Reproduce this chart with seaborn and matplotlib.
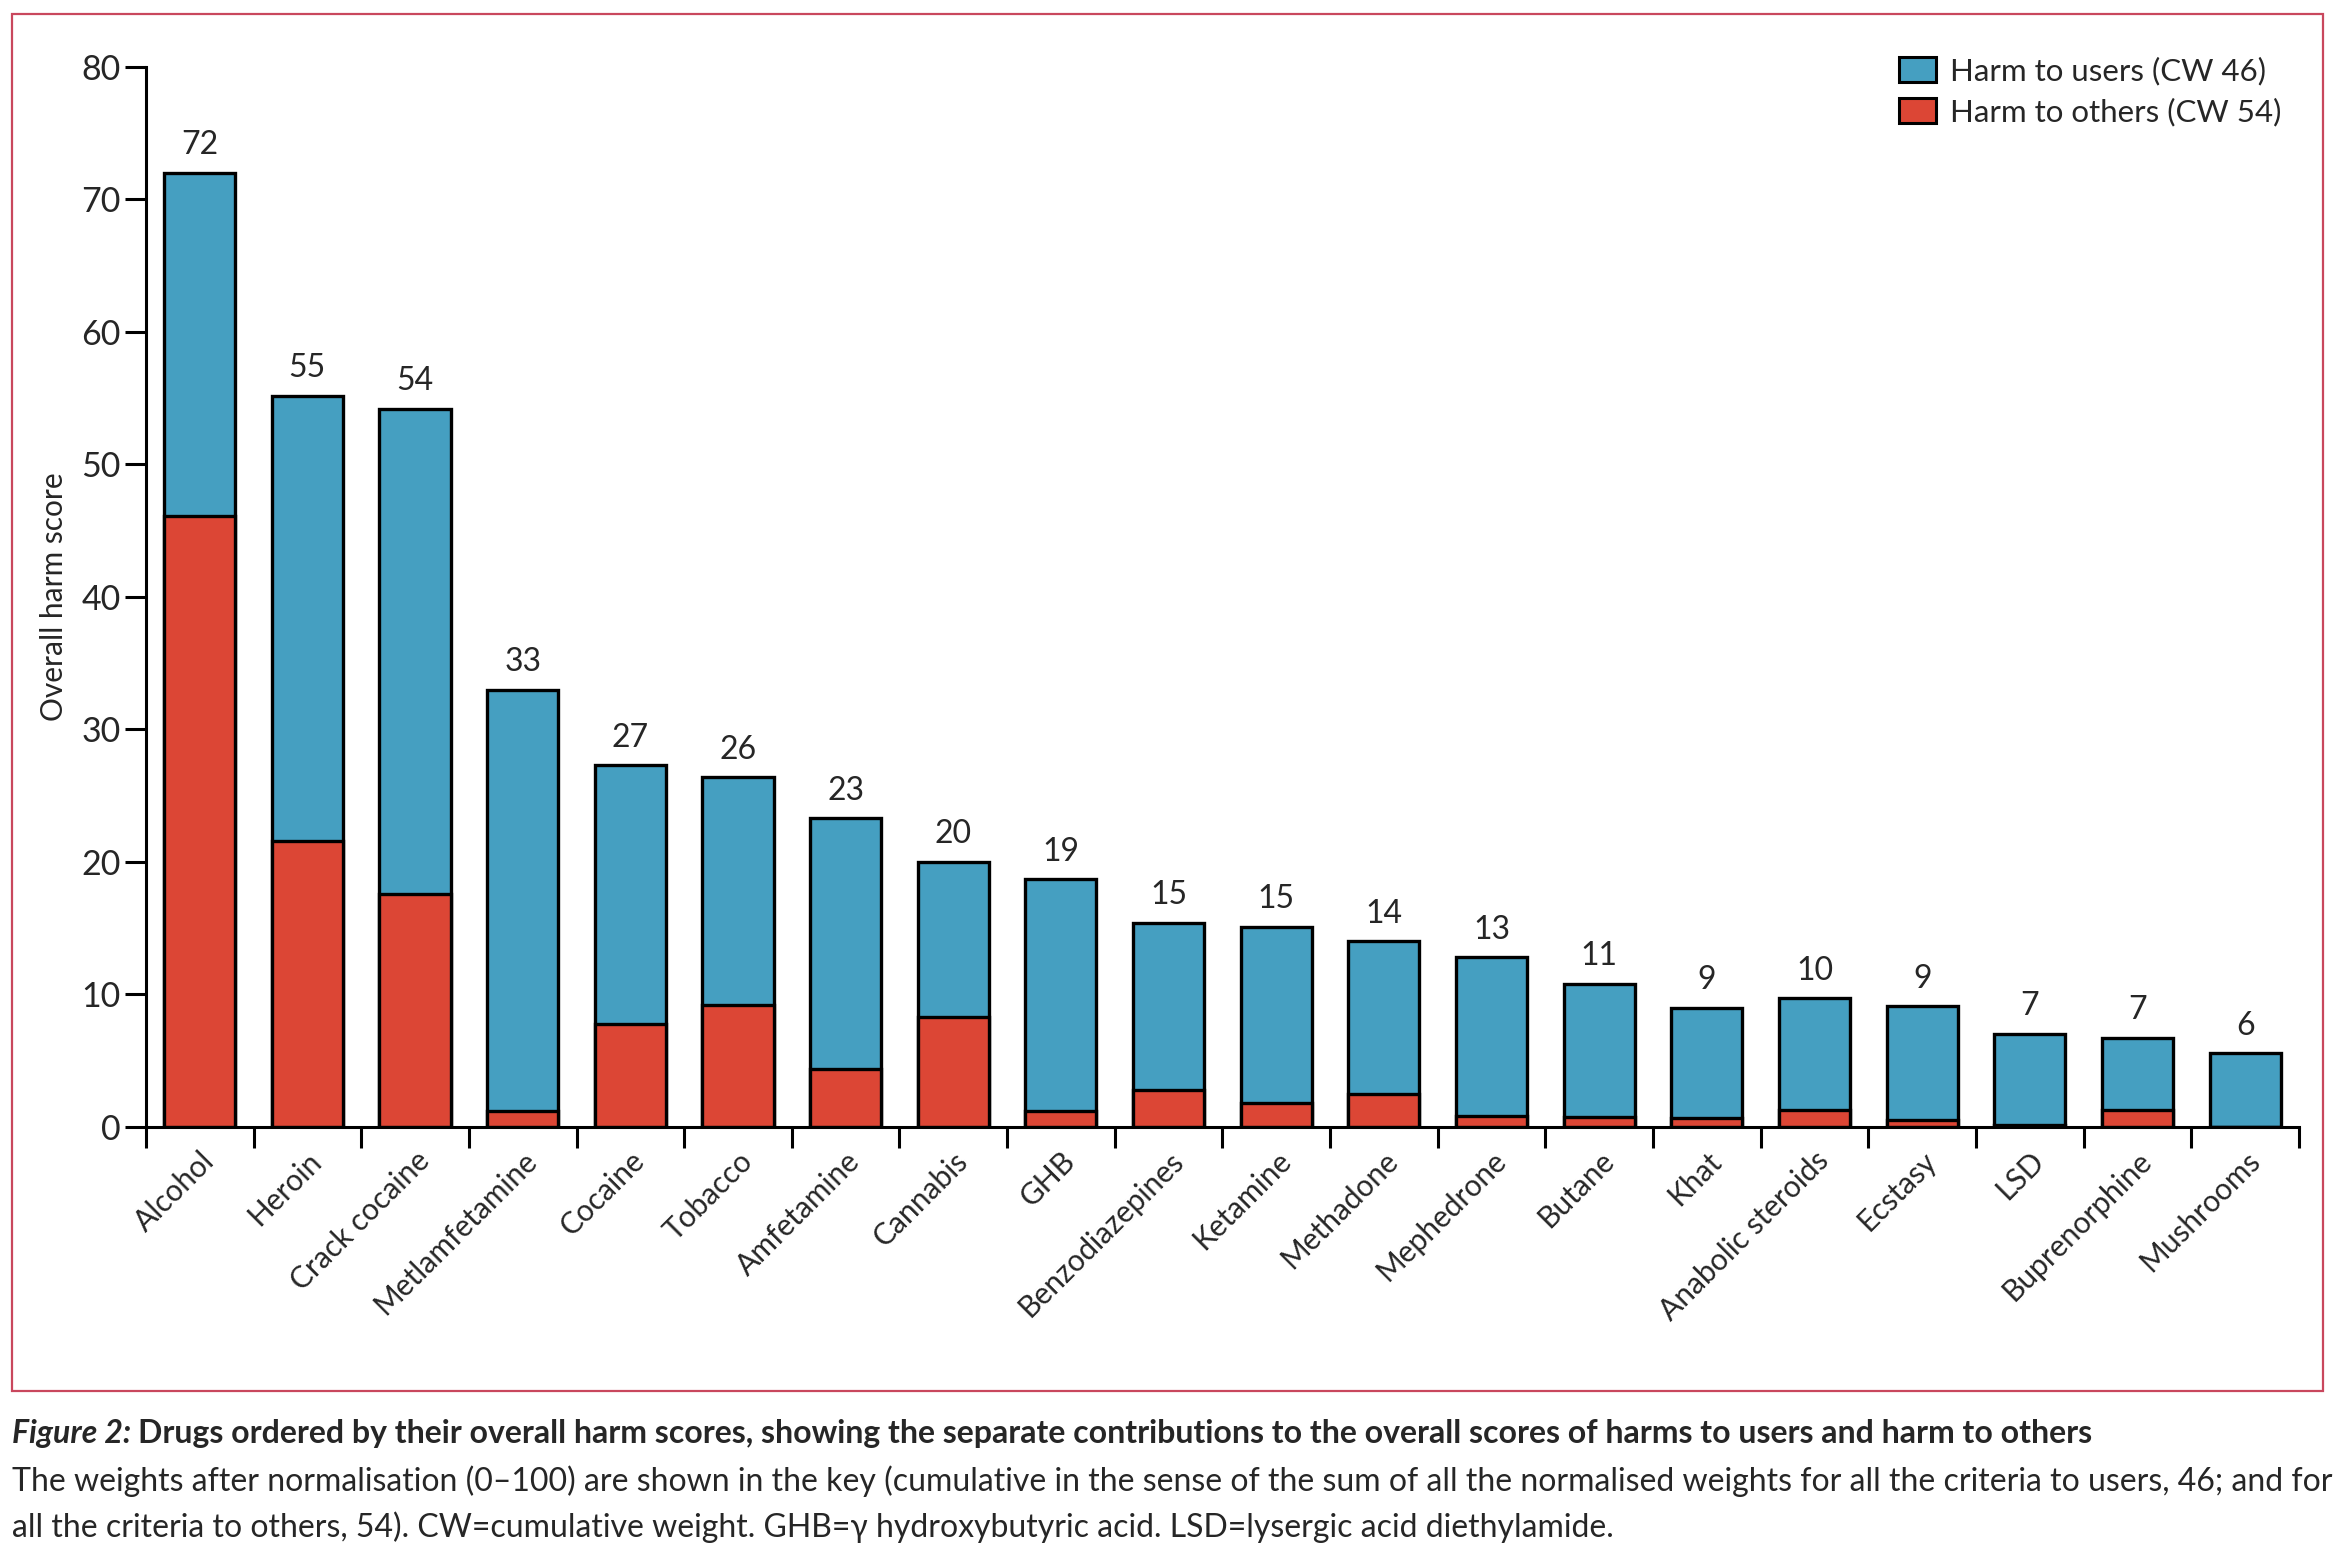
import matplotlib
matplotlib.use("Agg")
import matplotlib.pyplot as plt
import seaborn as sns
import pandas as pd
from matplotlib.patches import Patch, Rectangle

# data
drugs = ['Alcohol', 'Heroin', 'Crack cocaine', 'Metlamfetamine', 'Cocaine', 'Tobacco',
         'Amfetamine', 'Cannabis', 'GHB', 'Benzodiazepines', 'Ketamine', 'Methadone',
         'Mephedrone', 'Butane', 'Khat', 'Anabolic steroids', 'Ecstasy', 'LSD',
         'Buprenorphine', 'Mushrooms']
total_score = [72.0, 55.2, 54.2, 33.0, 27.3, 26.4, 23.3, 20.0, 18.7, 15.4, 15.1, 14.0,
               12.8, 10.8, 9.0, 9.7, 9.1, 7.05, 6.75, 5.55]
harm_to_others = [46.1, 21.6, 17.6, 1.2, 7.8, 9.2, 4.4, 8.3, 1.2, 2.8, 1.8, 2.5,
                  0.8, 0.75, 0.65, 1.25, 0.55, 0.12, 1.25, 0.0]
score_labels = ['72', '55', '54', '33', '27', '26', '23', '20', '19', '15', '15', '14',
                '13', '11', '9', '10', '9', '7', '7', '6']

df = pd.DataFrame({'drug': drugs, 'total': total_score, 'others': harm_to_others})

blue = '#459fc1'
red = '#dc4635'

sns.set_style('white')
plt.rcParams['font.family'] = ['Lato', 'DejaVu Sans']

fig = plt.figure(figsize=(23.38, 15.56), dpi=100)
ax = fig.add_axes([0.0624, 0.2757, 0.9209, 0.6813])

sns.barplot(data=df, x='drug', y='total', color=blue, edgecolor='black',
            linewidth=2.4, width=0.66, saturation=1, ax=ax)
sns.barplot(data=df, x='drug', y='others', color=red, edgecolor='black',
            linewidth=2.4, width=0.66, saturation=1, ax=ax)

ax.bar_label(ax.containers[0], labels=score_labels, padding=9, fontsize=23)

ax.set_xlim(-0.5, 19.5)
ax.set_ylim(0, 80)
ax.set_yticks(range(0, 81, 10))
ax.set_xticks([i - 0.5 for i in range(21)])
ax.set_xticks(range(20), minor=True)
ax.set_xticklabels([])
ax.set_xticklabels(drugs, minor=True, rotation=45, ha='right', rotation_mode='anchor',
                   fontsize=21.5)
ax.tick_params(axis='x', which='minor', length=0, pad=14)
ax.tick_params(axis='x', which='major', direction='out', length=15, width=2.2, color='black')
ax.tick_params(axis='y', direction='out', length=15, width=2.2, color='black',
               labelsize=24.5, pad=3)
ax.tick_params(left=True, bottom=True)

for side in ['top', 'right']:
    ax.spines[side].set_visible(False)
for side in ['left', 'bottom']:
    ax.spines[side].set_linewidth(2.2)
    ax.spines[side].set_color('black')

ax.set_xlabel('')
ax.set_ylabel('Overall harm score', fontsize=21.5, labelpad=10)

handles = [Patch(facecolor=blue, edgecolor='black', linewidth=2.2, label='Harm to users (CW 46)'),
           Patch(facecolor=red, edgecolor='black', linewidth=2.2, label='Harm to others (CW 54)')]
ax.legend(handles=handles, loc='upper right', bbox_to_anchor=(1.005, 1.036), frameon=False,
          fontsize=22.5, handlelength=1.2, handleheight=0.85, handletextpad=0.45,
          labelspacing=0.38)

# pink frame around the chart panel
fig.patches.append(Rectangle((0.0051, 0.106), 0.9885, 0.885, transform=fig.transFigure,
                             fill=False, edgecolor='#c9475d', linewidth=1.6))

# caption
cap_x = 0.0051
cap_size = 23
t1 = fig.text(cap_x, 1 - 1434 / 1556, 'Figure 2:', fontsize=cap_size, fontweight='bold',
              fontstyle='italic', va='center', ha='left')
fig.canvas.draw()
bb = t1.get_window_extent(fig.canvas.get_renderer())
x2 = bb.x1 / fig.bbox.width + 0.003
fig.text(x2, 1 - 1434 / 1556,
         'Drugs ordered by their overall harm scores, showing the separate contributions '
         'to the overall scores of harms to users and harm to others',
         fontsize=cap_size, fontweight='bold', va='center', ha='left')
fig.text(cap_x, 1 - 1481 / 1556,
         'The weights after normalisation (0\u2013100) are shown in the key (cumulative in the '
         'sense of the sum of all the normalised weights for all the criteria to users, 46; and for',
         fontsize=cap_size, va='center', ha='left')
fig.text(cap_x, 1 - 1527 / 1556,
         'all the criteria to others, 54). CW=cumulative weight. GHB=\u03b3 hydroxybutyric acid. '
         'LSD=lysergic acid diethylamide.',
         fontsize=cap_size, va='center', ha='left')

fig.savefig('out.png', dpi=100)
